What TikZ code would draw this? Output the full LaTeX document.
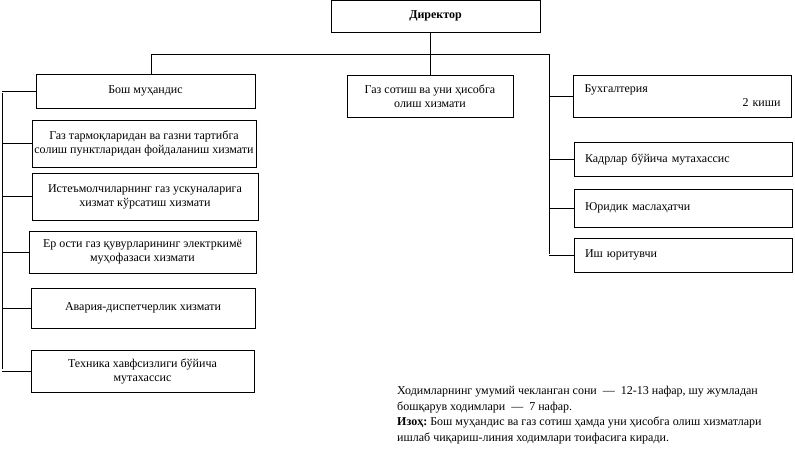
\documentclass[tikz,border=0pt]{standalone}
\usepackage{fontspec}
\setmainfont{Liberation Serif}
\frenchspacing
\begin{document}
\begin{tikzpicture}[x=1pt,y=-1pt,
  box/.style={draw,line width=0.8pt,inner sep=0pt,align=center,font=\fontsize{12}{14}\selectfont},
  lbox/.style={draw,line width=0.8pt,inner xsep=11pt,inner ysep=0pt,align=left,font=\fontsize{12}{14}\selectfont},
  conn/.style={line width=0.8pt}]
\useasboundingbox (0,0) rectangle (795,456);
% top
\node[box,minimum width=209pt,minimum height=32pt,font=\bfseries\fontsize{12}{14}\selectfont] (dir) at (435.5,16) {Директор};
\node[box,minimum width=219pt,minimum height=34pt] (bosh) at (145.5,91) {Бош муҳандис};
\node[box,minimum width=166pt,minimum height=42pt] (gas) at (430,96) {Газ сотиш ва уни ҳисобга\\олиш хизмати};
% left column
\node[box,minimum width=224pt,minimum height=47pt] (b2) at (144,143.5) {Газ тармоқларидан ва газни тартибга\\солиш пунктларидан фойдаланиш хизмати};
\node[box,minimum width=226pt,minimum height=47pt] (b3) at (145,196.5) {Истеъмолчиларнинг газ ускуналарига\\хизмат кўрсатиш хизмати};
\node[box,minimum width=227pt,minimum height=42pt] (b4) at (142.5,252) {Ер ости газ қувурларининг электркимё\\муҳофазаси хизмати};
\node[box,minimum width=224pt,minimum height=40pt] (b5) at (143,308) {Авария-диспетчерлик хизмати};
\node[box,minimum width=223pt,minimum height=42pt] (b6) at (142.5,371) {Техника хавфсизлиги бўйича\\мутахассис};
% right column
\node[lbox,text width=196pt,minimum height=42pt] (buh) at (682.5,96) {Бухгалтерия\\\mbox{}\hfill 2 киши};
\node[lbox,text width=196pt,minimum height=34pt] (kad) at (683,159) {Кадрлар бўйича мутахассис};
\node[lbox,text width=196pt,minimum height=38pt] (yur) at (683,208) {Юридик маслаҳатчи};
\node[lbox,text width=196pt,minimum height=34pt] (ish) at (683,255) {Иш юритувчи};
% note
\node[anchor=north west,inner sep=0pt,align=left,font=\fontsize{12}{15.5}\selectfont] (note) at (397,386)
 {Ходимларнинг умумий чекланган сони \ — \ 12-13 нафар, шу жумладан\\
  бошқарув ходимлари \ — \ 7 нафар.\\
  \textbf{Изоҳ:} Бош муҳандис ва газ сотиш ҳамда уни ҳисобга олиш хизматлари\\
  ишлаб чиқариш-линия ходимлари тоифасига киради.};
% coordinates
\coordinate (tl) at (151,54);
\coordinate (tr) at (549,54);
\coordinate (rb) at (549,254);
\coordinate (ls) at (2,93);
\coordinate (lb) at (2,369);
% connectors
\draw[conn] (dir.south -| gas.north) -- (gas.north);
\draw[conn] (tl |- bosh.north) -- (tl) -- (tr) -- (rb);
\draw[conn] (ls) -- (lb);
\draw[conn] (bosh.west) -- (bosh.west -| ls);
\foreach \b in {b2,b3,b4,b5,b6} \draw[conn] (\b.west) -- (\b.west -| ls);
\foreach \b in {buh,kad,yur,ish} \draw[conn] (\b.west) -- (\b.west -| tr);
\end{tikzpicture}
\end{document}
